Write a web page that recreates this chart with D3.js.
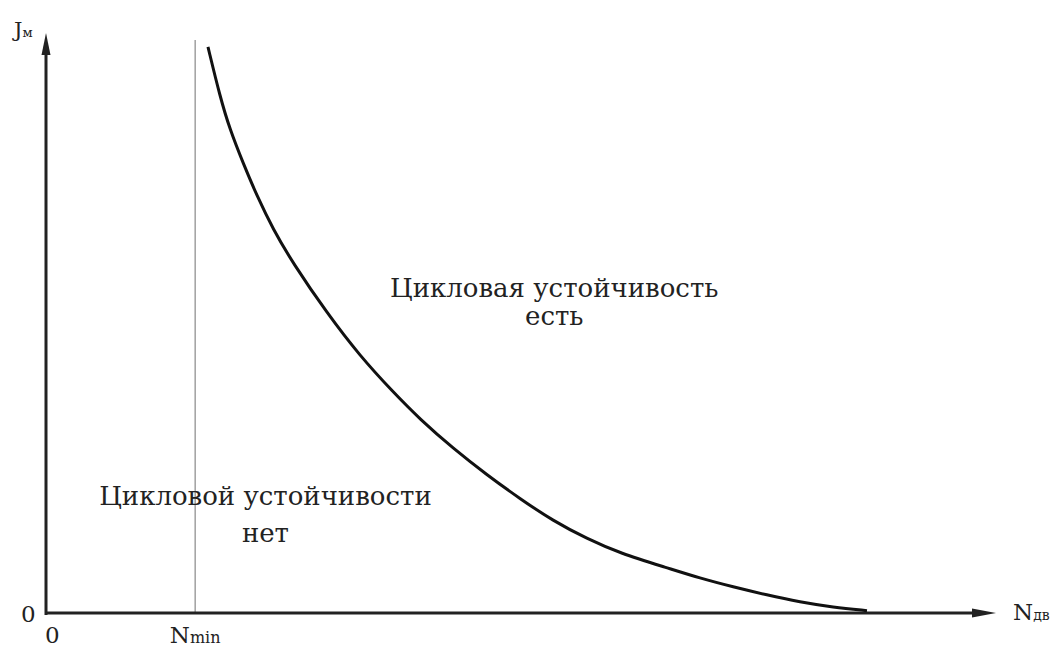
<!DOCTYPE html>
<html>
<head>
<meta charset="utf-8">
<script src="https://cdn.jsdelivr.net/npm/d3@7"></script>
<style>
  body { margin: 0; background: #fff; }
  svg { display: block; }
  text { font-family: "DejaVu Serif", "Liberation Serif", serif; fill: #222; }
</style>
</head>
<body>
<svg id="chart" width="1062" height="649"></svg>
<script>
// stability boundary J_m(N_dv) (arbitrary units 0..100)
const curveN = [17.05, 18.32, 19.37, 20.74, 22.21, 23.89, 26.0, 29.58, 33.05, 36.53,
  39.37, 42.84, 46.42, 49.89, 53.37, 56.95, 60.42, 65.37, 68.84, 72.32,
  75.89, 79.37, 82.84, 86.42];
const curveJ = [97.6, 89.0, 83.3, 77.6, 71.9, 66.2, 60.3, 51.7, 44.3, 38.1,
  33.4, 28.4, 23.8, 19.7, 15.9, 12.8, 10.3, 7.8, 6.0, 4.5,
  3.1, 1.9, 1.0, 0.4];
const nMin = 15.7;
const nMinTop = 98.8;
const regionText = [
  ["Цикловая устойчивость", "есть"],
  ["Цикловой устойчивости", "нет"]
];
const regionN = [53.5, 23.1];
const regionJ = [54.5, 18.6];

const svg = d3.select("#chart");
const x = d3.scaleLinear().domain([0, 100]).range([46, 996]);
const y = d3.scaleLinear().domain([0, 100]).range([613, 33]);

// N_min line
svg.append("line")
  .attr("x1", x(nMin)).attr("x2", x(nMin))
  .attr("y1", y(nMinTop)).attr("y2", y(0))
  .attr("stroke", "#888").attr("stroke-width", 1.2);

// axes
svg.append("line")
  .attr("x1", x(0)).attr("x2", x(0))
  .attr("y1", y(0) + 2).attr("y2", y(100) + 14)
  .attr("stroke", "#222").attr("stroke-width", 3);
svg.append("line")
  .attr("x1", x(0) - 1).attr("x2", x(100) - 14)
  .attr("y1", y(0)).attr("y2", y(0))
  .attr("stroke", "#222").attr("stroke-width", 3);

// arrowheads
const ax = x(0), ay = y(100);
svg.append("path")
  .attr("d", `M${ax},${ay} L${ax - 4.5},${ay + 22} L${ax + 4.5},${ay + 22} Z`)
  .attr("fill", "#222");
const bx = x(100), by = y(0);
svg.append("path")
  .attr("d", `M${bx},${by} L${bx - 24},${by - 4.5} L${bx - 24},${by + 4.5} Z`)
  .attr("fill", "#222");

// curve
const pts = curveN.map((n, i) => [n, curveJ[i]]);
svg.append("path")
  .datum(pts)
  .attr("fill", "none")
  .attr("stroke", "#111")
  .attr("stroke-width", 3)
  .attr("d", d3.line().x(d => x(d[0])).y(d => y(d[1])).curve(d3.curveBasis));

// region captions
const lineGap = [28, 37];
regionText.forEach((lines, k) => {
  lines.forEach((t, i) => {
    svg.append("text")
      .attr("x", x(regionN[k]))
      .attr("y", y(regionJ[k]) + i * lineGap[k])
      .attr("text-anchor", "middle")
      .style("font-size", "26px")
      .text(t);
  });
});

// axis labels
const jl = svg.append("text").attr("x", 14).attr("y", 37).style("font-size", "21px");
jl.append("tspan").text("J");
jl.append("tspan").style("font-size", "13px").text("м");

const nl = svg.append("text").attr("x", 1013).attr("y", 620).style("font-size", "23px");
nl.append("tspan").text("N");
nl.append("tspan").style("font-size", "14px").text("дв");

svg.append("text").attr("x", 21).attr("y", 622).style("font-size", "23px").text("0");
svg.append("text").attr("x", 45).attr("y", 643).style("font-size", "23px").text("0");

const nm = svg.append("text").attr("x", x(nMin)).attr("y", 643)
  .attr("text-anchor", "middle").style("font-size", "23px");
nm.append("tspan").text("N");
nm.append("tspan").style("font-size", "16px").text("min");
</script>
</body>
</html>
